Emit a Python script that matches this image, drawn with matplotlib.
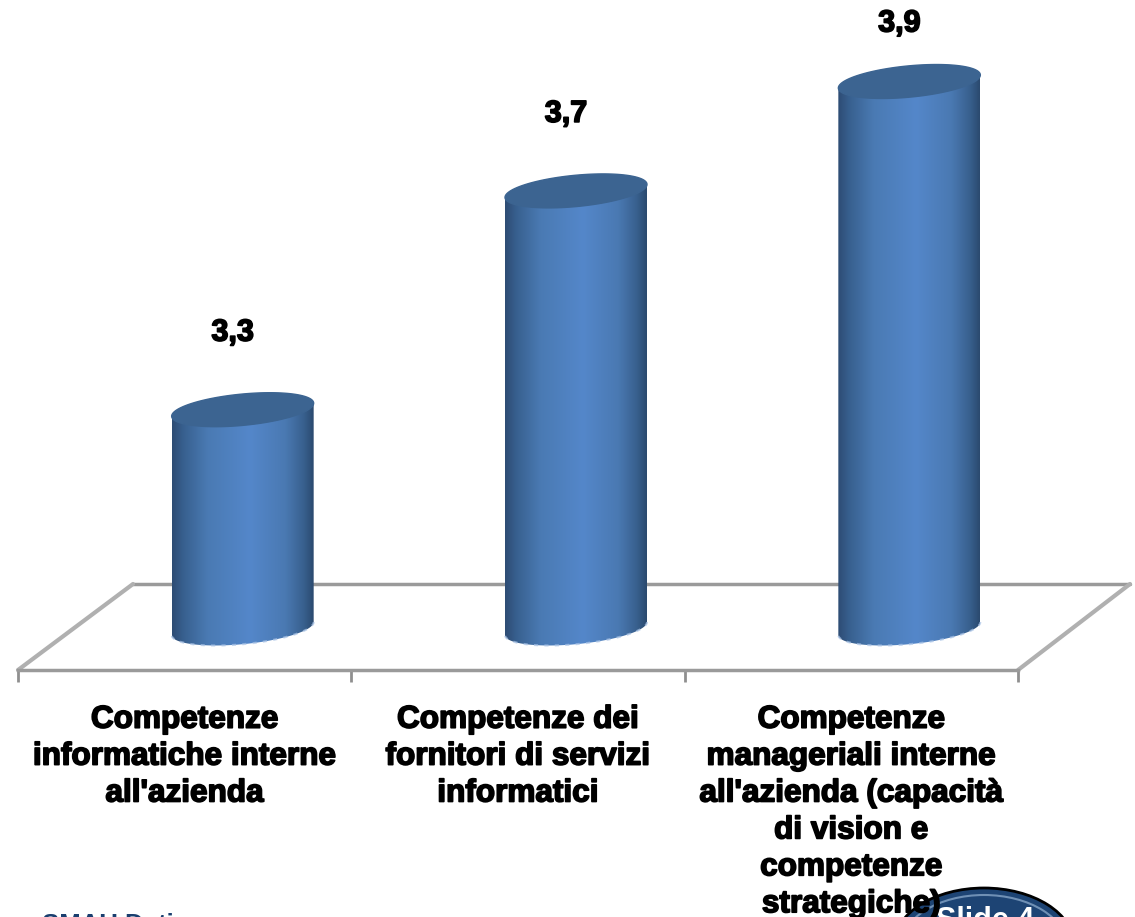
import numpy as np
import matplotlib
matplotlib.use('Agg')
import matplotlib.pyplot as plt
import matplotlib.patheffects as pe
from matplotlib.colors import LinearSegmentedColormap
from matplotlib.patches import Arc, Ellipse, Polygon
from matplotlib.transforms import Affine2D

# Values
categories = [
    "Competenze\ninformatiche interne\nall'azienda",
    "Competenze dei\nfornitori di servizi\ninformatici",
    "Competenze\nmanageriali interne\nall'azienda (capacità\ndi vision e\ncompetenze\nstrategiche)",
]
values = [3.3, 3.7, 3.9]
value_labels = ['3,3', '3,7', '3,9']
axis_min = 2.9

W, H = 1135, 917
PX_PER_UNIT = 547
FRONT_Y = 670
LEFT, RIGHT = 18, 1018

plt.rcParams['font.family'] = ['Liberation Sans', 'DejaVu Sans']
heavy = [pe.withStroke(linewidth=1.2, foreground='black')]

fig = plt.figure(figsize=(W / 100, H / 100), dpi=100)
ax = fig.add_axes([LEFT / W, 1 - FRONT_Y / H, (RIGHT - LEFT) / W, FRONT_Y / H])
ax.set_xlim(-0.5, 2.5)
ax.set_ylim(axis_min, axis_min + FRONT_Y / PX_PER_UNIT)
ax.patch.set_visible(False)
for side in ['top', 'left', 'right']:
    ax.spines[side].set_visible(False)
ax.spines['bottom'].set_color('#9a9a9a')
ax.spines['bottom'].set_linewidth(2.5)
ax.set_yticks([])

# separators between categories, labels centred on the categories
ax.set_xticks(np.arange(-0.5, 3), minor=True)
ax.set_xticks(range(3))
ax.tick_params(axis='x', which='minor', length=8.5, width=2, color='#8f8f8f')
ax.tick_params(axis='x', which='major', length=0, pad=25)
ax.set_xticklabels(categories, fontsize=22.7, fontweight='bold', color='black',
                   linespacing=1.3, path_effects=heavy)

# the columns stand on the middle of the floor, so shift them back from the front edge
depth = Affine2D().translate(58, 41.5)
bar_trans = ax.transData + depth

half_w = 71 / ((RIGHT - LEFT) / 3)
rim_b = 15.7 / PX_PER_UNIT
rim_s = 6.5 / PX_PER_UNIT
t = np.linspace(0, 2 * np.pi, 121)

side_cmap = LinearSegmentedColormap.from_list('cyl', [
    (0.00, '#2d4c74'), (0.08, '#38608f'), (0.25, '#4a7ab3'), (0.55, '#5487ca'),
    (0.80, '#4a79b2'), (0.93, '#38608e'), (1.00, '#2b4a6f')])
gradient = np.linspace(0, 1, 256).reshape(1, -1)

for i, v in enumerate(values):
    x_rim = i + half_w * np.cos(t)
    rim = rim_b * np.sin(t) + rim_s * np.cos(t)

    # outline of the whole column: bottom half of the lower rim, then the top edge
    low = t[:61]
    low_x = i + half_w * np.cos(low)
    low_y = axis_min - rim_b * np.sin(low) + rim_s * np.cos(low)
    up_x = low_x[::-1]
    up_y = v + rim_s * np.cos(low)[::-1]
    outline = np.column_stack([np.r_[low_x, up_x], np.r_[low_y, up_y]])
    clip = Polygon(outline, closed=True, transform=bar_trans, facecolor='none', edgecolor='none')
    ax.add_patch(clip)
    im = ax.imshow(gradient, cmap=side_cmap, aspect='auto', zorder=3,
                   extent=[i - half_w, i + half_w, axis_min - 3 * rim_b, v + 3 * rim_b],
                   transform=bar_trans)
    im.set_clip_path(clip)

    ax.fill(x_rim, v + rim, color='#3c6491', zorder=4, transform=bar_trans, clip_on=False)
    ax.plot(low_x, low_y, color='#a9c3e6', lw=1.5, ls=(0, (2, 3)), alpha=0.7, zorder=4,
            transform=bar_trans, clip_on=False)

    ax.text(i, v, value_labels[i], ha='center', va='center', fontsize=22, fontweight='bold',
            path_effects=heavy, clip_on=False, zorder=5,
            transform=bar_trans + Affine2D().translate(-10, 77 if v < 3.8 else 58))

ax.set_xlim(-0.5, 2.5)
ax.set_ylim(axis_min, axis_min + FRONT_Y / PX_PER_UNIT)

# pixel layer behind the chart for the floor and the slide furniture
deco = fig.add_axes([0, 0, 1, 1], zorder=-1)
deco.set_xlim(0, W)
deco.set_ylim(H, 0)
deco.axis('off')
deco.plot([133, 1130], [584, 584], color='#9a9a9a', lw=2.5, solid_capstyle='round')
for xs, ys in [([18, 133], [670, 584]), ([1018, 1130], [670, 584])]:
    deco.plot(xs, ys, color='#b0b0b0', lw=3, solid_capstyle='round')

deco.add_patch(Ellipse((984, 945), 180, 114, facecolor='#1d4474', edgecolor='black', lw=2))
deco.add_patch(Arc((984, 947), 166, 104, theta1=180, theta2=360, color='#6f90b5', lw=1.5))
deco.text(985, 906, 'Slide 4', color='white', fontsize=22, fontweight='bold',
          ha='center', va='top')
deco.text(42, 913, 'SMAU Dati', color='#1a3f6f', fontsize=18.5, fontweight='bold',
          ha='left', va='top')

fig.savefig('out.png', dpi=100)
